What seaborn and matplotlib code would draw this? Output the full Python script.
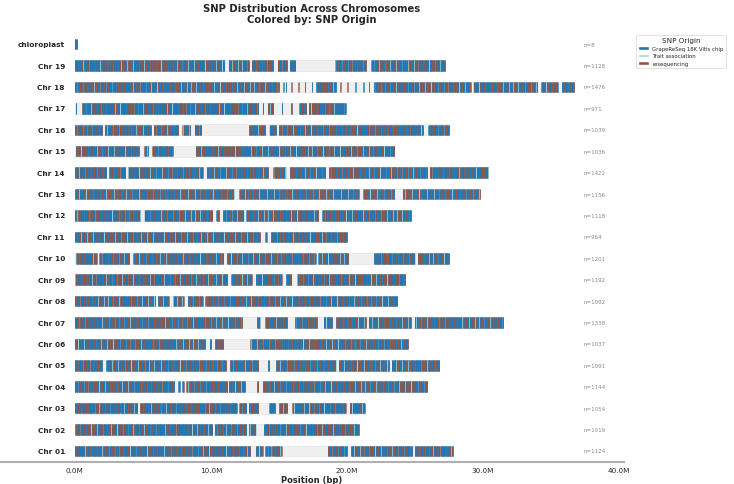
import numpy as np
import pandas as pd
import matplotlib.pyplot as plt
import seaborn as sns
from matplotlib.patches import Patch
from matplotlib.ticker import FuncFormatter

# ---------------------------------
# Data
# ---------------------------------

chromosomes = ["Chr 01", "Chr 02", "Chr 03", "Chr 04", "Chr 05", "Chr 06", "Chr 07",
               "Chr 08", "Chr 09", "Chr 10", "Chr 11", "Chr 12", "Chr 13", "Chr 14",
               "Chr 15", "Chr 16", "Chr 17", "Chr 18", "Chr 19", "chloroplast"]

# chromosome length in Mb
lengths_mb = [27.8, 20.9, 21.3, 25.9, 26.8, 24.5, 31.5,
              23.7, 24.3, 27.5, 20.0, 24.7, 29.8, 30.4,
              23.5, 27.5, 19.9, 36.7, 27.2, 0.16]

snp_counts = [1124, 1019, 1054, 1144, 1091, 1037, 1338,
              1092, 1192, 1201, 964, 1118, 1156, 1422,
              1036, 1039, 971, 1476, 1128, 8]

# stretches (Mb) where SNP marks are visible; gaps between them are empty
covered_mb = [
    [(0, 12.9), (13.3, 13.8), (14.0, 14.4), (14.5, 15.2), (18.6, 20.0), (20.3, 24.8), (25.0, 27.8)],
    [(0, 10.1), (10.3, 12.6), (12.8, 13.3), (13.9, 20.9)],
    [(0, 4.6), (4.8, 11.9), (12.1, 12.6), (12.8, 13.5), (14.3, 14.7), (15.0, 15.6), (16.0, 19.9), (20.2, 21.3)],
    [(0, 7.3), (7.6, 7.7), (7.9, 8.0), (8.2, 11.2), (11.3, 12.5), (13.4, 13.5), (13.8, 25.9)],
    [(0, 2.0), (2.3, 11.1), (11.4, 13.5), (14.2, 14.3), (14.8, 19.2), (19.4, 23.1), (23.3, 26.8)],
    [(0, 9.6), (9.9, 10.0), (10.3, 10.9), (12.9, 24.5)],
    [(0, 12.3), (13.4, 13.6), (14.0, 15.6), (16.2, 17.8), (18.3, 18.9), (19.2, 21.4), (21.6, 24.7), (25.0, 31.5)],
    [(0, 5.9), (6.1, 6.9), (7.2, 8.0), (8.3, 9.4), (9.6, 23.7)],
    [(0, 11.2), (11.5, 13.0), (13.3, 15.2), (15.5, 15.9), (16.3, 24.3)],
    [(0.1, 1.6), (1.8, 4.0), (4.3, 10.9), (11.2, 17.7), (17.9, 20.1), (22.0, 25.0), (25.2, 27.5)],
    [(0, 13.6), (14.0, 14.1), (14.4, 20.0)],
    [(0, 4.8), (5.1, 10.1), (10.4, 10.6), (10.9, 12.4), (12.6, 17.9), (18.2, 24.7)],
    [(0, 11.7), (12.1, 20.9), (21.2, 23.5), (24.1, 29.8)],
    [(0, 2.3), (2.5, 3.7), (3.9, 9.4), (9.7, 14.2), (14.6, 15.5), (15.8, 18.4), (18.7, 25.9), (26.1, 30.4)],
    [(0.05, 4.7), (5.1, 5.4), (5.7, 7.2), (8.9, 23.5)],
    [(0, 2.0), (2.2, 5.6), (5.8, 7.6), (7.9, 8.5), (8.8, 9.3), (12.8, 14.0), (14.3, 14.8), (15.0, 25.6), (26.0, 27.5)],
    [(0.05, 0.1), (0.5, 13.5), (13.8, 13.85), (14.2, 14.6), (15.2, 15.25), (15.9, 16.0), (16.5, 17.0), (17.2, 19.9)],
    [(0, 15.0), (15.3, 15.35), (15.5, 15.55), (15.9, 15.95), (16.4, 16.45), (16.9, 16.95), (17.4, 17.45),
     (17.7, 19.2), (19.5, 19.55), (20.0, 20.05), (20.6, 20.65), (21.2, 21.25), (21.6, 21.65),
     (22.0, 29.1), (29.3, 34.0), (34.3, 35.5), (35.8, 36.7)],
    [(0, 11.0), (11.3, 12.8), (13.0, 14.6), (14.9, 15.6), (15.8, 16.2), (19.1, 21.4), (21.8, 27.2)],
    [(0, 0.16)],
]

# origin runs along a chromosome (C = chip, R = resequencing, T = trait association)
origin_runs = ("CCRRRCCCCRCCRRRRCTCCCRRCCCCCRRRCRRCCCTTCCRRRRRCCCRCCCCRRCTRRRCCCCCRRCCRRRR"
               "CCCCTCCRRRCRRRRCCCCCCRRCTTCCRRRCCCRRRRRCCCCRCCRRTCCCCRRRRCCRCCCCCRRRRTCCC"
               "RCCRRCCCCCTRRRCRCCCCRRRRRCCTCCCRRCCCCRRRCRRRCCCCCTTRRCCCRCCRRRRCCCCCRRCTC")

origin_names = {"C": "GrapeReSeq 18K Vitis chip", "T": "Trait association", "R": "resequencing"}
origin_colors = {"GrapeReSeq 18K Vitis chip": "#1f77b4",
                 "Trait association": "#9edae5",
                 "resequencing": "#8c564b"}

# ---------------------------------
# Build SNP table
# ---------------------------------

rows = []
for i, (name, segs, n) in enumerate(zip(chromosomes, covered_mb, snp_counts)):
    seg_len = np.array([max(e - s, 0.02) for s, e in segs])
    alloc = np.maximum(1, np.round(n * seg_len / seg_len.sum())).astype(int)
    k = i * 37
    for (s, e), m in zip(segs, alloc):
        for p in np.linspace(s, e, m):
            rows.append({"chrom": name, "y": i, "pos": p * 1e6,
                         "origin": origin_names[origin_runs[k % len(origin_runs)]]})
            k += 1
snps = pd.DataFrame(rows)

# ---------------------------------
# Plot
# ---------------------------------

sns.set_style("white")
fig = plt.figure(figsize=(7.34, 4.85), dpi=100)
ax = fig.add_axes([0.0, 0.046, 0.85, 0.883])

max_len = max(lengths_mb) * 1e6
y_pos = np.arange(len(chromosomes))

ax.barh(y_pos, np.array(lengths_mb) * 1e6, height=0.5, left=0,
        color="#efefef", edgecolor="#e2e2e2", linewidth=0.4, zorder=1)

sns.scatterplot(data=snps, x="pos", y="y", hue="origin", palette=origin_colors,
                marker="|", s=58, linewidth=0.7, alpha=0.72, legend=False,
                ax=ax, zorder=2)

for i, name in enumerate(chromosomes):
    ax.text(-0.02 * max_len, i, name, ha="right", va="center",
            fontsize=5.3, fontweight="bold")
    ax.text(max_len * 1.02, i, f"n={snp_counts[i]}", ha="left", va="center",
            fontsize=4, color="#888888")

ax.set_xlim(-0.15 * max_len, 1.1 * max_len)
ax.set_ylim(-0.5, len(chromosomes) - 0.5)
ax.set_yticks([])
ax.set_ylabel("")
ax.set_xticks([0, 10e6, 20e6, 30e6, 40e6])
ax.xaxis.set_major_formatter(FuncFormatter(lambda x, _: f"{x / 1e6:.1f}M"))
ax.tick_params(axis="x", labelsize=5.2, length=2, width=0.6, color="#555555", pad=2)
ax.set_xlabel("Position (bp)", fontsize=6, fontweight="bold", labelpad=1.5)

for side in ["top", "right", "left"]:
    ax.spines[side].set_visible(False)
ax.spines["bottom"].set_color("#b0b0b0")
ax.spines["bottom"].set_linewidth(1.5)

ax.set_title("SNP Distribution Across Chromosomes\nColored by: SNP Origin",
             fontsize=7.2, fontweight="bold", pad=8)

handles = [Patch(facecolor=c, label=k) for k, c in origin_colors.items()]
leg = ax.legend(handles=handles, title="SNP Origin", loc="upper left",
                bbox_to_anchor=(1.015, 1.003), fontsize=3.9, title_fontsize=5.2,
                frameon=True, handlelength=2.0, handleheight=0.7,
                borderpad=0.4, handletextpad=0.6)
leg.get_frame().set_edgecolor("#cccccc")
leg.get_frame().set_linewidth(0.5)

fig.savefig("out.png", dpi=100)
